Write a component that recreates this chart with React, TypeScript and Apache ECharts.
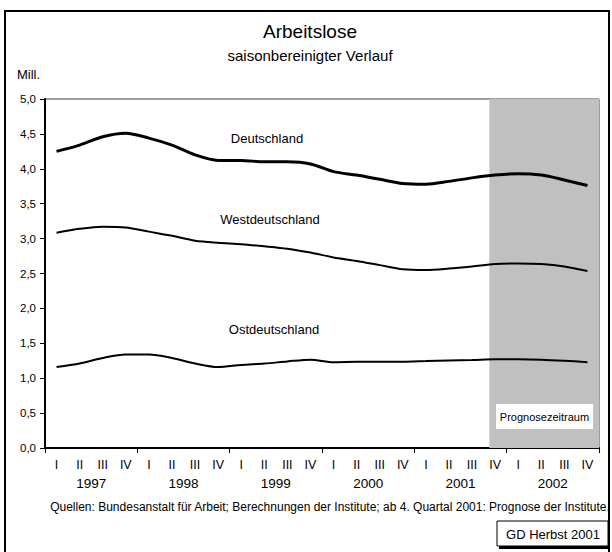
import React, { useEffect, useRef } from "react";
import * as echarts from "echarts";

const quarterLabels = [
  "I", "II", "III", "IV", "I", "II", "III", "IV", "I", "II", "III", "IV",
  "I", "II", "III", "IV", "I", "II", "III", "IV", "I", "II", "III", "IV",
];
const yearLabels = ["1997", "1998", "1999", "2000", "2001", "2002"];

const deutschland = [
  4.25, 4.34, 4.46, 4.51, 4.44, 4.34, 4.2, 4.12, 4.12, 4.1, 4.1, 4.07,
  3.96, 3.91, 3.85, 3.79, 3.78, 3.82, 3.87, 3.91, 3.93, 3.91, 3.84, 3.76,
];
const westdeutschland = [
  3.085, 3.14, 3.17, 3.16, 3.1, 3.04, 2.97, 2.94, 2.92, 2.89, 2.855, 2.8,
  2.73, 2.68, 2.62, 2.56, 2.55, 2.57, 2.6, 2.635, 2.645, 2.635, 2.6, 2.535,
];
const ostdeutschland = [
  1.16, 1.21, 1.29, 1.34, 1.34, 1.29, 1.21, 1.16, 1.19, 1.21, 1.24, 1.265,
  1.23, 1.235, 1.235, 1.235, 1.245, 1.255, 1.26, 1.27, 1.27, 1.265, 1.25, 1.23,
];
// forecast period in quarter units (from start of axis)
const forecastStart = 19.25;
const forecastEnd = 24;

const FONT = "Arial, 'Liberation Sans', sans-serif";

export default function App() {
  const ref = useRef<HTMLDivElement>(null);
  useEffect(() => {
    if (!ref.current) return;
    const chart = echarts.init(ref.current, undefined, { renderer: "svg" });
    chart.setOption({
      animation: false,
      backgroundColor: "#ffffff",
      textStyle: { fontFamily: FONT },
      grid: {
        left: 45,
        right: 13,
        top: 99,
        bottom: 104,
        show: true,
        borderColor: "#404040",
        borderWidth: 1,
        backgroundColor: "transparent",
      },
      xAxis: [
        {
          type: "category",
          data: quarterLabels,
          position: "bottom",
          boundaryGap: true,
          axisLine: { lineStyle: { color: "#000", width: 2 } },
          axisTick: { show: false },
          axisLabel: { interval: 0, color: "#000", fontSize: 12.5, margin: 10, fontFamily: FONT },
          splitLine: { show: false },
        },
        {
          type: "category",
          data: yearLabels,
          position: "bottom",
          boundaryGap: true,
          axisLine: { show: false },
          axisTick: { show: true, length: 5, lineStyle: { color: "#000", width: 1 } },
          axisLabel: { interval: 0, color: "#000", fontSize: 13.5, margin: 28, fontFamily: FONT },
          splitLine: { show: false },
        },
        {
          type: "value",
          min: 0,
          max: 24,
          show: false,
          position: "top",
        },
      ],
      yAxis: {
        type: "value",
        min: 0,
        max: 5,
        interval: 0.5,
        axisLine: { show: true, lineStyle: { color: "#000", width: 2 } },
        axisTick: { show: true, length: 5, lineStyle: { color: "#000", width: 1 } },
        axisLabel: {
          color: "#000",
          fontSize: 11.5,
          margin: 9,
          fontFamily: FONT,
          formatter: (v: number) => v.toFixed(1).replace(".", ","),
        },
        splitLine: { show: false },
      },
      series: [
        {
          name: "Prognose",
          type: "line",
          xAxisIndex: 2,
          data: [],
          silent: true,
          markArea: {
            silent: true,
            itemStyle: { color: "#c0c0c0" },
            data: [[{ xAxis: forecastStart }, { xAxis: forecastEnd }]],
          },
          z: 1,
        },
        {
          name: "Deutschland",
          type: "line",
          data: deutschland,
          smooth: 0.3,
          showSymbol: false,
          lineStyle: { color: "#000", width: 3 },
          z: 3,
        },
        {
          name: "Westdeutschland",
          type: "line",
          data: westdeutschland,
          smooth: 0.3,
          showSymbol: false,
          lineStyle: { color: "#000", width: 2 },
          z: 3,
        },
        {
          name: "Ostdeutschland",
          type: "line",
          data: ostdeutschland,
          smooth: 0.3,
          showSymbol: false,
          lineStyle: { color: "#000", width: 2 },
          z: 3,
        },
      ],
      graphic: [
        {
          type: "rect",
          shape: { x: 5, y: 11, width: 604, height: 560 },
          style: { fill: "none", stroke: "#000", lineWidth: 2 },
          silent: true,
        },
        {
          type: "text",
          x: 310,
          y: 31,
          style: { text: "Arbeitslose", fill: "#000", font: `19px ${FONT}`, textAlign: "center", textVerticalAlign: "middle" },
        },
        {
          type: "text",
          x: 310,
          y: 55,
          style: { text: "saisonbereinigter Verlauf", fill: "#000", font: `15px ${FONT}`, textAlign: "center", textVerticalAlign: "middle" },
        },
        {
          type: "text",
          x: 17,
          y: 74,
          style: { text: "Mill.", fill: "#000", font: `13px ${FONT}`, textAlign: "left", textVerticalAlign: "middle" },
        },
        {
          type: "text",
          x: 267,
          y: 138,
          z: 10,
          style: { text: "Deutschland", fill: "#000", font: `13px ${FONT}`, textAlign: "center", textVerticalAlign: "middle" },
        },
        {
          type: "text",
          x: 270,
          y: 219,
          z: 10,
          style: { text: "Westdeutschland", fill: "#000", font: `13px ${FONT}`, textAlign: "center", textVerticalAlign: "middle" },
        },
        {
          type: "text",
          x: 274,
          y: 329,
          z: 10,
          style: { text: "Ostdeutschland", fill: "#000", font: `13px ${FONT}`, textAlign: "center", textVerticalAlign: "middle" },
        },
        {
          type: "rect",
          z: 10,
          shape: { x: 496, y: 404, width: 97, height: 25 },
          style: { fill: "#fff", stroke: "none" },
        },
        {
          type: "text",
          z: 11,
          x: 544.5,
          y: 417,
          style: { text: "Prognosezeitraum", fill: "#000", font: `11px ${FONT}`, textAlign: "center", textVerticalAlign: "middle" },
        },
        {
          type: "text",
          x: 330,
          y: 507,
          style: {
            text: "Quellen: Bundesanstalt für Arbeit; Berechnungen der Institute; ab 4. Quartal 2001: Prognose der Institute.",
            fill: "#000",
            font: `12px ${FONT}`,
            textAlign: "center",
            textVerticalAlign: "middle",
          },
        },
        {
          type: "rect",
          shape: { x: 499, y: 523, width: 111, height: 26 },
          style: { fill: "#000", stroke: "none" },
        },
        {
          type: "rect",
          shape: { x: 497, y: 521, width: 111, height: 25 },
          style: { fill: "#fff", stroke: "#000", lineWidth: 1 },
        },
        {
          type: "text",
          x: 553,
          y: 534,
          style: { text: "GD Herbst 2001", fill: "#000", font: `13px ${FONT}`, textAlign: "center", textVerticalAlign: "middle" },
        },
      ],
    });
    return () => chart.dispose();
  }, []);
  return (
    <div
      ref={ref}
      style={{ position: "fixed", left: 0, top: 0, width: 612, height: 552, background: "#fff" }}
    />
  );
}
